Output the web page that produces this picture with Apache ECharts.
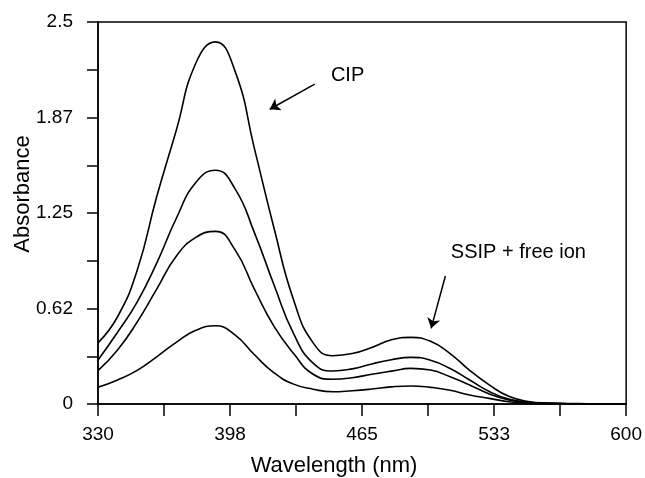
<!DOCTYPE html>
<html>
<head>
<meta charset="utf-8">
<script src="https://cdn.jsdelivr.net/npm/echarts@6/dist/echarts.min.js"></script>
<style>
  html, body { margin: 0; padding: 0; background: #fff; }
  #chart { width: 645px; height: 478px; }
</style>
</head>
<body>
<div id="chart"></div>
<script>
// wavelength grid (nm) and the four absorbance traces, top to bottom
const wavelength = [330, 340, 350, 360, 370, 380, 390, 400, 410, 420, 430, 440, 450,
  460, 470, 480, 490, 500, 510, 520, 530, 540, 550, 560, 570, 580, 590, 600];
const absCurve1 = [0.40, 0.571, 0.874, 1.356, 1.79, 2.23, 2.37, 2.18, 1.67, 1.15, 0.68, 0.40, 0.316,
  0.33, 0.37, 0.42, 0.436, 0.41, 0.33, 0.22, 0.125, 0.05, 0.016, 0.006, 0.003, 0.002, 0.001, 0.001];
const absCurve2 = [0.288, 0.47, 0.667, 0.922, 1.214, 1.45, 1.53, 1.41, 1.12, 0.779, 0.46, 0.267, 0.216,
  0.23, 0.262, 0.29, 0.305, 0.287, 0.232, 0.157, 0.082, 0.032, 0.011, 0.005, 0.002, 0.001, 0.001, 0.001];
const absCurve3 = [0.218, 0.353, 0.536, 0.752, 0.967, 1.09, 1.13, 1.01, 0.75, 0.508, 0.33, 0.195, 0.162,
  0.172, 0.195, 0.215, 0.233, 0.222, 0.178, 0.124, 0.066, 0.027, 0.01, 0.004, 0.002, 0.001, 0.001, 0.001];
const absCurve4 = [0.109, 0.157, 0.22, 0.309, 0.403, 0.482, 0.512, 0.452, 0.322, 0.204, 0.13, 0.097, 0.08,
  0.087, 0.098, 0.112, 0.118, 0.109, 0.09, 0.059, 0.037, 0.015, 0.006, 0.003, 0.002, 0.001, 0.001, 0.001];

// ticks / labels
const xTickValues = [330, 363.75, 397.5, 431.25, 465, 498.75, 532.5, 566.25, 600];
const xLabelValues = [330, 397.5, 465, 532.5, 600];
const yTickValues = [0, 0.3125, 0.625, 0.9375, 1.25, 1.5625, 1.875, 2.1875, 2.5];
const yLabelValues = [0, 0.625, 1.25, 1.875, 2.5];

// annotations: [wavelength, absorbance]
const cipText = [457.6, 2.15];
const cipArrow = [[440.8, 2.094], [417.8, 1.929]];
const ssipText = [544.9, 0.991];
const ssipArrow = [[507.6, 0.838], [500.3, 0.495]];

const chart = echarts.init(document.getElementById("chart"));

const pairs = (ys) => wavelength.map((x, i) => [x, ys[i]]);
const tickFont = { color: "#000", fontFamily: "Liberation Sans, Arial", fontSize: 19 };

const lineSeries = (ys) => ({
  type: "line",
  data: pairs(ys),
  smooth: 0.5,
  showSymbol: false,
  lineStyle: { color: "#000", width: 1.6 },
  silent: true
});

const series = [absCurve1, absCurve2, absCurve3, absCurve4].map(lineSeries);
series[0].markLine = {
  silent: true,
  symbol: ["none", "arrow"],
  symbolSize: 10,
  lineStyle: { color: "#000", width: 1.5, type: "solid" },
  label: { show: false },
  data: [
    [{ coord: cipArrow[0] }, { coord: cipArrow[1] }],
    [{ coord: ssipArrow[0] }, { coord: ssipArrow[1] }]
  ]
};
series[0].markPoint = {
  silent: true,
  symbol: "circle",
  symbolSize: 0,
  label: {
    show: true,
    position: "inside",
    color: "#000",
    fontFamily: "Liberation Sans, Arial",
    fontSize: 20,
    formatter: (p) => p.name
  },
  data: [
    { name: "CIP", coord: cipText },
    { name: "SSIP + free ion", coord: ssipText }
  ]
};

const option = {
  animation: false,
  backgroundColor: "#fff",
  grid: {
    left: 98, top: 22, right: 18, bottom: 74,
    show: true, borderColor: "#000", borderWidth: 1.5
  },
  xAxis: {
    type: "value",
    min: 330,
    max: 600,
    axisLine: { lineStyle: { color: "#000", width: 1.5 } },
    axisTick: { show: true, customValues: xTickValues, length: 12, lineStyle: { color: "#000", width: 1.5 } },
    axisLabel: {
      customValues: xLabelValues,
      margin: 21,
      ...tickFont,
      formatter: (v) => String(Math.round(v))
    },
    splitLine: { show: false }
  },
  yAxis: {
    type: "value",
    min: 0,
    max: 2.5,
    axisLine: { show: true, lineStyle: { color: "#000", width: 1.5 } },
    axisTick: { show: true, customValues: yTickValues, length: 11, lineStyle: { color: "#000", width: 1.5 } },
    axisLabel: {
      customValues: yLabelValues,
      margin: 25,
      ...tickFont,
      formatter: (v) => String(Math.floor(v * 100 + 1e-6) / 100)
    },
    splitLine: { show: false }
  },
  graphic: [
    {
      type: "text",
      x: 334, y: 466,
      style: {
        text: "Wavelength (nm)",
        fill: "#000",
        font: "22px 'Liberation Sans', Arial",
        textAlign: "center",
        textVerticalAlign: "middle"
      }
    },
    {
      type: "text",
      x: 23, y: 194,
      rotation: Math.PI / 2,
      style: {
        text: "Absorbance",
        fill: "#000",
        font: "22px 'Liberation Sans', Arial",
        textAlign: "center",
        textVerticalAlign: "middle"
      }
    }
  ],
  series: series
};

chart.setOption(option);
</script>
</body>
</html>
